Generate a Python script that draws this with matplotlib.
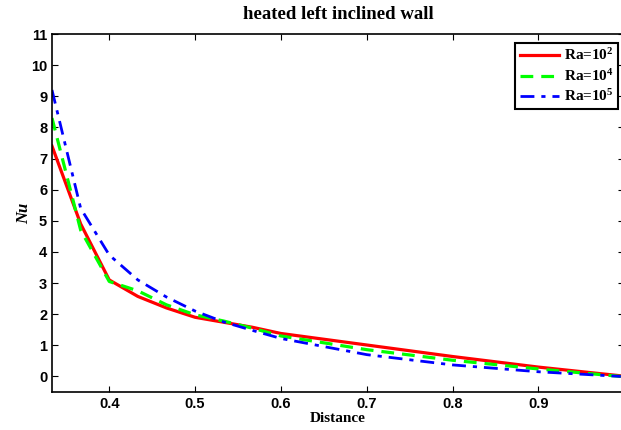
import matplotlib
matplotlib.use('Agg')
import matplotlib.pyplot as plt
import numpy as np

# distance along the wall
x_ra2 = [0.3333, 0.3667, 0.4, 0.4333, 0.4667, 0.5, 0.5333, 0.5667, 0.6, 0.7, 0.8, 0.9, 0.996]
nu_ra2 = [7.4, 4.9, 3.1, 2.57, 2.2, 1.9, 1.74, 1.58, 1.38, 1.01, 0.64, 0.3, 0.02]

x_ra4 = [0.3333, 0.3667, 0.4, 0.4333, 0.4667, 0.5, 0.5333, 0.5667, 0.6, 0.7, 0.8, 0.9, 0.996]
nu_ra4 = [8.3, 4.7, 3.05, 2.75, 2.3, 1.98, 1.78, 1.55, 1.3, 0.86, 0.52, 0.24, 0.0]

x_ra5 = [0.3333, 0.3667, 0.4, 0.4333, 0.4667, 0.5, 0.5333, 0.5667, 0.6, 0.7, 0.8, 0.9, 0.996]
nu_ra5 = [9.2, 5.4, 3.9, 3.1, 2.55, 2.1, 1.75, 1.48, 1.22, 0.7, 0.37, 0.15, 0.0]

xticks = [0.4, 0.5, 0.6, 0.7, 0.8, 0.9]
yticks = list(range(0, 12))

serif = ['Liberation Serif', 'DejaVu Serif']
sans = ['Liberation Sans', 'DejaVu Sans']

plt.rcParams['mathtext.fontset'] = 'custom'
plt.rcParams['mathtext.rm'] = 'Liberation Serif:bold'
plt.rcParams['mathtext.it'] = 'Liberation Serif:bold:italic'

fig = plt.figure(figsize=(6.21, 4.30), dpi=100)
ax = fig.add_axes([52/621, 38/430, 572/621, 358/430])

ax.plot(x_ra2, nu_ra2, '-', color='#ff0000', lw=2.3, label=r'Ra=10$^2$')
ax.plot(x_ra4, nu_ra4, '--', color='#00ff00', lw=2.3, dashes=(4, 2.5), label=r'Ra=10$^4$')
ax.plot(x_ra5, nu_ra5, '-.', color='#0000ff', lw=2.0, dashes=(5, 2.5, 1.5, 2.5), label=r'Ra=10$^5$')

ax.set_xlim(0.3333, 0.9997)
ax.set_ylim(-0.5, 11)
ax.set_xticks(xticks)
ax.set_yticks(yticks)
ax.set_xticklabels([str(t) for t in xticks], family=sans, fontweight='bold', fontsize=10.5)
ax.set_yticklabels([str(t) for t in yticks], family=sans, fontweight='bold', fontsize=10.5)
ax.tick_params(direction='in', top=True, right=True, length=4, width=0.8)
for s in ax.spines.values():
    s.set_linewidth(1.2)

ax.set_title('heated left inclined wall', family=serif, fontweight='bold', fontsize=13.5, pad=11)
ax.set_xlabel('Distance', family=serif, fontweight='bold', fontsize=11, labelpad=1)
ax.set_ylabel('Nu', family=serif, fontweight='bold', style='italic', fontsize=12, labelpad=-1)

leg = ax.legend(loc='upper right', bbox_to_anchor=(0.99, 0.975), borderaxespad=0,
                prop={'family': serif, 'weight': 'bold', 'size': 11},
                fancybox=False, edgecolor='black', framealpha=1, handlelength=2.6, borderpad=0.3,
                labelspacing=0.3, handletextpad=0.3)
leg.get_frame().set_linewidth(1.5)

fig.savefig('out.png', dpi=100)
